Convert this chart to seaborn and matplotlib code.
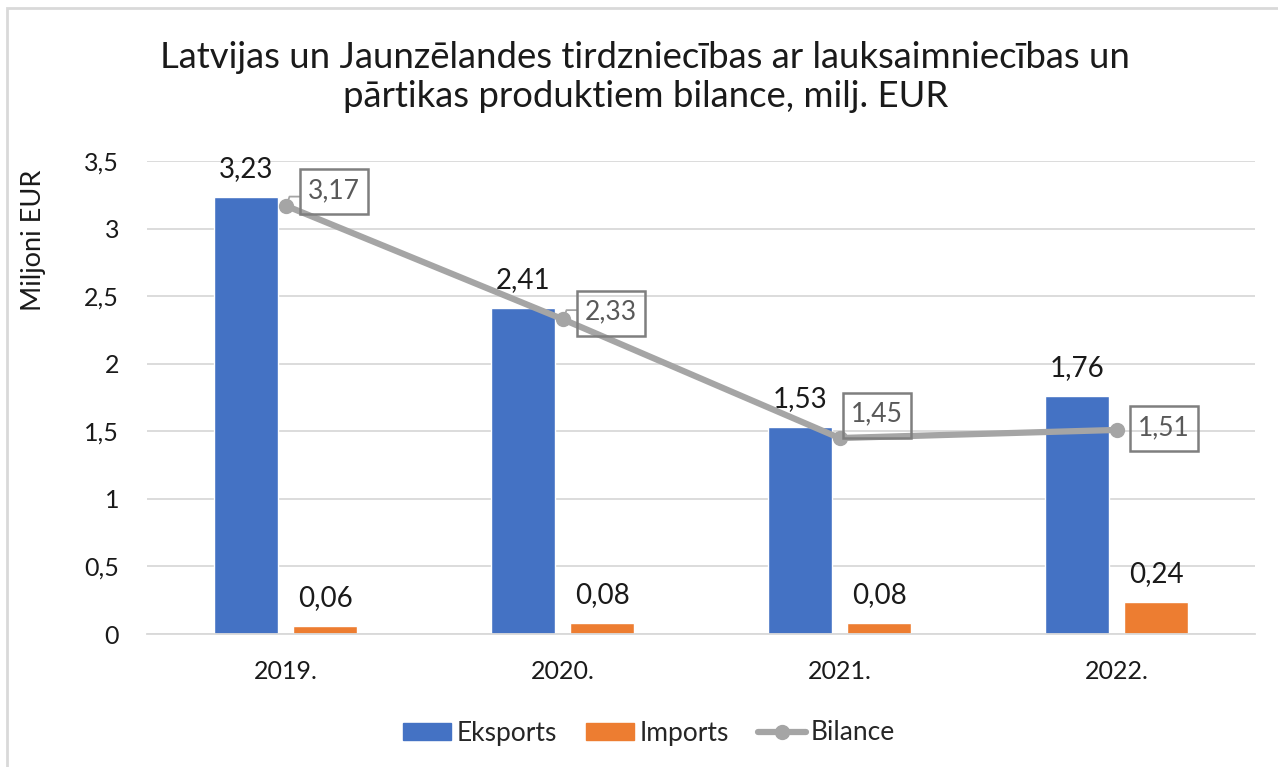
import numpy as np
import pandas as pd
import matplotlib
matplotlib.use("Agg")
import matplotlib.pyplot as plt
import matplotlib.transforms as mtransforms
import seaborn as sns
from matplotlib.patches import Patch, Rectangle
from matplotlib.lines import Line2D

years = ["2019.", "2020.", "2021.", "2022."]
eksports = [3.23, 2.41, 1.53, 1.76]
imports_ = [0.06, 0.08, 0.08, 0.24]
bilance = [3.17, 2.33, 1.45, 1.51]
yticks = [0, 0.5, 1, 1.5, 2, 2.5, 3, 3.5]
title = "Latvijas un Jaunzēlandes tirdzniecības ar lauksaimniecības un\npārtikas produktiem bilance, milj. EUR"

BLUE, ORANGE, GRAY = "#4472C4", "#ED7D31", "#A5A5A5"
TXT = "#1a1a1a"

def fmt(v):
    return f"{v:.2f}".replace(".", ",")

def fmt_tick(v):
    return f"{v:g}".replace(".", ",")

sns.set_theme(style="white")
plt.rcParams["font.family"] = ["Lato", "DejaVu Sans"]

df = pd.DataFrame({
    "year": years * 2,
    "value": eksports + imports_,
    "series": ["Eksports"] * 4 + ["Imports"] * 4,
})

W, H = 1278, 767
fig = plt.figure(figsize=(W / 100, H / 100), dpi=100)
ax = fig.add_axes([147 / W, 1 - 634 / H, (1255 - 147) / W, (634 - 161) / H])

sns.barplot(data=df, x="year", y="value", hue="series", palette=[BLUE, ORANGE],
            width=0.572, gap=0.2, ax=ax, legend=False, saturation=1)

x = np.arange(len(years))
ax.plot(x, bilance, color=GRAY, lw=4.5, marker="o", markersize=10, zorder=5,
        solid_capstyle="round")

ax.set_ylim(0, 3.5)
ax.set_xlim(-0.5, 3.5)
ax.set_yticks(yticks)
ax.set_yticklabels([fmt_tick(t) for t in yticks])
ax.yaxis.grid(True, color="#D9D9D9", lw=1.3)
ax.set_axisbelow(True)
for s in ["top", "right", "left"]:
    ax.spines[s].set_visible(False)
ax.spines["bottom"].set_color("#D9D9D9")
ax.spines["bottom"].set_linewidth(1.3)
ax.tick_params(axis="both", length=0, labelsize=18, colors=TXT)
ax.tick_params(axis="y", pad=20)
ax.tick_params(axis="x", pad=18.5)
ax.set_xlabel("")
ax.set_ylabel("")

# bar labels
for cont in ax.containers:
    for rect in cont:
        h = rect.get_height()
        ax.annotate(fmt(h), (rect.get_x() + rect.get_width() / 2, h),
                    xytext=(0, 28), textcoords="offset pixels",
                    ha="center", va="center", fontsize=20, color=TXT)

# line labels with boxes (offsets in pixels from the point)
offs = [(48, 14), (48, 6), (37, 23), (47, 1)]
BW, BH = 68, 45
for i, v in enumerate(bilance):
    dx, dy = offs[i]
    ax.annotate(fmt(v), (x[i], v), xytext=(dx, dy + 1), textcoords="offset pixels",
                ha="center", va="center", fontsize=19, color="#595959", zorder=6)
    tr = mtransforms.Affine2D() + mtransforms.ScaledTranslation(x[i], v, ax.transData)
    ax.add_patch(Rectangle((dx - BW / 2, dy - BH / 2), BW, BH, transform=tr,
                           fill=False, ec="#7F7F7F", lw=1.8, zorder=6, clip_on=False))
    if i < 2:
        ax.add_line(Line2D([2, 4, dx - BW / 2], [3, 9, 9], transform=tr,
                           color="#A5A5A5", lw=1.3, zorder=4, clip_on=False))

fig.text(0.505, 1 - 77 / H, title, ha="center", va="center", fontsize=26.3,
         linespacing=1.24, color=TXT)
fig.text(33 / W, 1 - 240 / H, "Miljoni EUR", rotation=90, ha="center",
         va="center", fontsize=19.5, color=TXT)

handles = [Patch(color=BLUE), Patch(color=ORANGE),
           Line2D([], [], color=GRAY, lw=4.5, marker="o", markersize=10)]
fig.legend(handles, ["Eksports", "Imports", "Bilance"], loc="center",
           bbox_to_anchor=(0.508, 1 - 733 / H), ncol=3, frameon=False,
           fontsize=19, handlelength=1.82, handleheight=0.6, columnspacing=1.1,
           handletextpad=0.2)

fig.add_artist(Rectangle((7 / W, -0.1), 2, 1 - 8 / H + 0.1, transform=fig.transFigure,
                         fill=False, edgecolor="#D9D9D9", lw=2))
fig.text(128 / W, 1 + 14 / H, "g", fontsize=22, ha="center", va="center", color=TXT)

fig.savefig("out.png", dpi=100)
